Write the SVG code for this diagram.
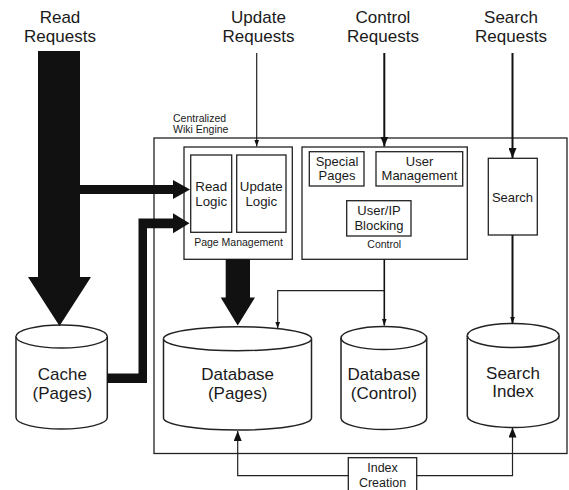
<svg xmlns="http://www.w3.org/2000/svg" width="569" height="490" viewBox="0 0 569 490">
<style>
text{font-family:"Liberation Sans",Arial,sans-serif;fill:#1a1a1a;text-anchor:middle}
.big{font-size:17px}
.mid{font-size:13px}
.sm{font-size:10.5px}
.box{fill:#fff;stroke:#222;stroke-width:1.3}
.cyl{fill:#fff;stroke:#222;stroke-width:1.5}
.thin{fill:none;stroke:#222;stroke-width:1.2}
.thick{fill:none;stroke:#111;stroke-width:2}
.heavy{fill:#111;stroke:none}
</style>
<defs>
<marker id="hs" markerUnits="userSpaceOnUse" markerWidth="7" markerHeight="6" refX="7" refY="3" orient="auto"><path d="M0,0.5 L7,3 L0,5.5 Z" fill="#111"/></marker>
<marker id="hm" markerUnits="userSpaceOnUse" markerWidth="10" markerHeight="8" refX="10" refY="4" orient="auto"><path d="M0,0 L10,4 L0,8 Z" fill="#111"/></marker>
</defs>

<g id="labels-top">
<text class="big" x="60" y="23">Read</text><text class="big" x="60" y="42">Requests</text>
<text class="big" x="258.5" y="23">Update</text><text class="big" x="258.5" y="42">Requests</text>
<text class="big" x="383" y="23">Control</text><text class="big" x="383" y="42">Requests</text>
<text class="big" x="511" y="23">Search</text><text class="big" x="511" y="42">Requests</text>
</g>

<g id="engine">
<rect class="box" x="154" y="138" width="413" height="315.5" fill="none"/>
<text class="sm" x="173" y="121.7" style="text-anchor:start">Centralized</text>
<text class="sm" x="173" y="132.7" style="text-anchor:start">Wiki Engine</text>
</g>

<g id="page-management">
<rect class="box" x="184" y="147" width="108.3" height="112.3"/>
<text class="sm" x="238.5" y="246">Page Management</text>
</g>
<g id="read-logic">
<rect class="box" x="190.7" y="155" width="41" height="77.3"/>
<text class="mid" x="211.2" y="190.7" style="font-size:13.3px">Read</text>
<text class="mid" x="211.2" y="206" style="font-size:13.3px">Logic</text>
</g>
<g id="update-logic">
<rect class="box" x="236.7" y="155" width="49.3" height="77.3"/>
<text class="mid" x="261.3" y="190.7" style="font-size:13.3px">Update</text>
<text class="mid" x="261.3" y="206" style="font-size:13.3px">Logic</text>
</g>

<g id="control">
<rect class="box" x="302" y="147" width="165.3" height="112.3"/>
<text class="sm" x="384.3" y="247.5">Control</text>
</g>
<g id="special-pages">
<rect class="box" x="309.3" y="151.7" width="54.7" height="34.3"/>
<text class="mid" x="337" y="166">Special</text>
<text class="mid" x="337" y="180">Pages</text>
</g>
<g id="user-management">
<rect class="box" x="376" y="151.7" width="86.7" height="34.3"/>
<text class="mid" x="419.5" y="166">User</text>
<text class="mid" x="419.5" y="180">Management</text>
</g>
<g id="user-ip-blocking">
<rect class="box" x="346.7" y="200.7" width="64.3" height="35.3"/>
<text class="mid" x="379" y="215">User/IP</text>
<text class="mid" x="379" y="230">Blocking</text>
</g>

<g id="search">
<rect class="box" x="488.3" y="158.3" width="49" height="76.7"/>
<text class="mid" x="512.5" y="201.7">Search</text>
</g>

<g id="cache">
<path class="cyl" d="M16,336.5 A45.6,11.5 0 0 1 107.3,336.5 V417.5 A45.6,11.5 0 0 1 16,417.5 Z"/>
<path class="cyl" fill="none" d="M16,336.5 A45.6,11.5 0 0 0 107.3,336.5"/>
<text class="big" x="62.3" y="380">Cache</text>
<text class="big" x="62.3" y="399">(Pages)</text>
</g>

<g id="database-pages">
<path class="cyl" d="M163.5,338.7 A74,12 0 0 1 311.5,338.7 V418 A74,12 0 0 1 163.5,418 Z"/>
<path class="cyl" fill="none" d="M163.5,338.7 A74,12 0 0 0 311.5,338.7"/>
<text class="big" x="237.7" y="380">Database</text>
<text class="big" x="237.7" y="399">(Pages)</text>
</g>

<g id="database-control">
<path class="cyl" d="M341,338 A42.85,11.5 0 0 1 426.7,338 V418 A42.85,11.5 0 0 1 341,418 Z"/>
<path class="cyl" fill="none" d="M341,338 A42.85,11.5 0 0 0 426.7,338"/>
<text class="big" x="383.8" y="380">Database</text>
<text class="big" x="383.8" y="399">(Control)</text>
</g>

<g id="search-index">
<path class="cyl" d="M467.3,335.5 A45.85,12 0 0 1 559,335.5 V416 A45.85,11.5 0 0 1 467.3,416 Z"/>
<path class="cyl" fill="none" d="M467.3,335.5 A45.85,12 0 0 0 559,335.5"/>
<text class="big" x="513" y="379">Search</text>
<text class="big" x="513" y="397">Index</text>
</g>

<g id="index-creation">
<rect class="box" x="348.3" y="457.7" width="68.4" height="40"/>
<text class="mid" x="382.5" y="471.7" style="font-size:12.5px">Index</text>
<text class="mid" x="382.5" y="486.5" style="font-size:12.5px">Creation</text>
</g>

<g id="connectors">
<path class="heavy" d="M38,51 H80 V185 H173 V180 L190,189.5 L173,199 V194 H80 V277 H91 L59.5,326 L28,277 H38 Z"/>
<path class="heavy" d="M107,373.5 H138.5 V218.5 H173 V213.3 L189.5,223.3 L173,233.3 V228.3 H147 V383 H107 Z"/>
<path class="heavy" d="M225.7,259.3 H250 V297.5 H255 L237.7,325.5 L220.7,297.5 H225.7 Z"/>
<line class="thin" x1="256.7" y1="53" x2="256.7" y2="146.5" marker-end="url(#hs)"/>
<line class="thick" x1="384.3" y1="53" x2="384.3" y2="146.5" marker-end="url(#hm)"/>
<line class="thick" x1="512.5" y1="53" x2="512.5" y2="158" marker-end="url(#hm)"/>
<line class="thick" x1="512.5" y1="235" x2="512.5" y2="323.5" marker-end="url(#hs)"/>
<line class="thick" x1="384.3" y1="259.3" x2="384.3" y2="325.5" style="stroke-width:1.6" marker-end="url(#hs)"/>
<polyline class="thin" points="384.3,290.7 277.7,290.7 277.7,328.5" marker-end="url(#hs)"/>
<polyline class="thin" points="348.3,475.7 237.7,475.7 237.7,431" marker-end="url(#hm)"/>
<polyline class="thin" points="416.7,475.7 512.5,475.7 512.5,427.5" marker-end="url(#hm)"/>
</g>
</svg>
